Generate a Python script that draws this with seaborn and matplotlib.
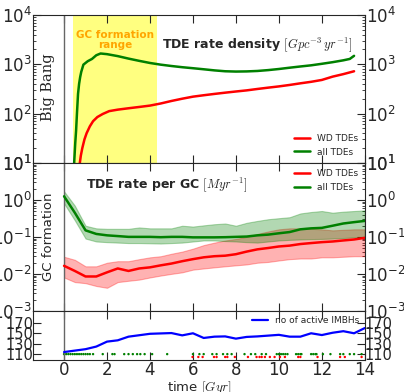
import numpy as np
import pandas as pd
import matplotlib
matplotlib.use("Agg")
import matplotlib.pyplot as plt
import seaborn as sns

# ---- top panel: TDE rate density ----
dens_all_t = [0.47, 0.52, 0.56, 0.6, 0.65, 0.7, 0.75, 0.8, 0.9, 1.1, 1.3, 1.5, 1.7, 2.0, 2.5, 3.0, 3.5, 4.0,
              4.5, 5.0, 5.5, 6.0, 6.5, 7.0, 7.5, 8.0, 8.5, 9.0, 9.5, 10.0, 10.5, 11.0, 11.5, 12.0, 12.5, 13.0, 13.3, 13.5]
dens_all = [10, 25, 45, 100, 250, 400, 550, 700, 980, 1150, 1280, 1520, 1650, 1600, 1460, 1300, 1170, 1060,
            980, 920, 870, 830, 790, 750, 720, 710, 715, 730, 760, 800, 850, 900, 950, 1020, 1100, 1200, 1280, 1480]
dens_wd_t = [0.72, 0.78, 0.85, 0.95, 1.05, 1.2, 1.35, 1.55, 1.8, 2.1, 2.5, 3.0, 3.5, 4.0, 4.5, 5.0, 5.5, 6.0,
             6.5, 7.0, 7.5, 8.0, 8.5, 9.0, 9.5, 10.0, 10.5, 11.0, 11.5, 12.0, 12.5, 13.0, 13.5]
dens_wd = [9, 14, 20, 30, 40, 55, 70, 85, 98, 112, 120, 128, 136, 145, 160, 180, 200, 220,
           235, 250, 265, 280, 295, 315, 335, 355, 380, 410, 440, 480, 560, 630, 720]

# ---- middle panel: TDE rate per GC ----
gc_t = [0, 0.5, 1, 1.5, 2, 2.5, 3, 3.5, 4, 4.5, 5, 5.5, 6, 6.5, 7, 7.5, 8, 8.5, 9, 9.5, 10, 10.5, 11,
        11.5, 12, 12.5, 13, 13.5, 14]
gc_all = [1.25, 0.45, 0.15, 0.12, 0.11, 0.105, 0.1, 0.1, 0.1, 0.098, 0.1, 0.1, 0.097, 0.097, 0.097, 0.098, 0.1,
          0.102, 0.11, 0.115, 0.125, 0.135, 0.16, 0.17, 0.175, 0.2, 0.23, 0.25, 0.27]
gc_all_hi = [1.7, 0.7, 0.2, 0.17, 0.165, 0.165, 0.165, 0.18, 0.17, 0.17, 0.17, 0.2, 0.19, 0.205, 0.22, 0.23,
             0.2, 0.24, 0.27, 0.3, 0.32, 0.34, 0.43, 0.47, 0.5, 0.45, 0.48, 0.5, 0.52]
gc_all_lo = [0.8, 0.28, 0.09, 0.075, 0.072, 0.07, 0.068, 0.068, 0.067, 0.066, 0.068, 0.07, 0.075, 0.08, 0.08,
             0.077, 0.075, 0.072, 0.07, 0.075, 0.08, 0.083, 0.085, 0.087, 0.088, 0.09, 0.093, 0.097, 0.1]
gc_wd = [0.0165, 0.012, 0.0085, 0.0085, 0.011, 0.014, 0.012, 0.014, 0.015, 0.017, 0.019, 0.022, 0.025, 0.028,
         0.03, 0.031, 0.034, 0.04, 0.046, 0.05, 0.055, 0.058, 0.064, 0.068, 0.072, 0.075, 0.08, 0.085, 0.094]
gc_wd_hi = [0.029, 0.024, 0.016, 0.016, 0.02, 0.022, 0.022, 0.025, 0.028, 0.03, 0.035, 0.04, 0.048, 0.06,
            0.07, 0.08, 0.088, 0.1, 0.12, 0.14, 0.16, 0.17, 0.17, 0.165, 0.16, 0.15, 0.155, 0.16, 0.16]
gc_wd_lo = [0.008, 0.006, 0.0056, 0.0047, 0.0042, 0.006, 0.0065, 0.007, 0.008, 0.009, 0.01, 0.011, 0.013,
            0.014, 0.015, 0.016, 0.017, 0.018, 0.02, 0.021, 0.023, 0.025, 0.026, 0.026, 0.028, 0.028, 0.029,
            0.03, 0.03]

# ---- bottom panel: number of active IMBHs ----
imbh_t = [0, 1, 1.5, 2, 2.5, 3, 4, 5, 5.5, 6, 6.5, 7, 7.5, 8, 8.5, 9, 10, 10.5, 11, 11.5, 12, 12.5, 13,
          13.5, 14]
imbh_n = [114, 119.5, 124.5, 134, 136.5, 143.5, 149, 150.4, 146, 150, 141, 143.5, 144, 139.7, 143, 144, 147,
          143.5, 143.5, 150, 146.6, 151, 154, 150, 160]
ev_all_t = [0.0, 0.1, 0.2, 0.3, 0.4, 0.5, 0.6, 0.7, 0.8, 0.9, 1.0, 1.1, 1.2, 1.35, 1.8, 2.25, 2.35, 2.8,
            3.0, 3.2, 3.4, 3.55, 3.75, 4.1, 4.8, 6.0, 6.3, 6.5, 6.9, 7.1, 7.4, 7.6, 7.8, 8.4, 8.7, 8.9,
            9.2, 9.4, 9.9, 10.0, 10.1, 10.2, 10.3, 10.4, 10.8, 10.9, 11.0, 11.05, 11.5, 11.6, 11.7, 11.75,
            12.05, 12.4, 12.85, 13.0, 13.3, 13.5, 13.85]
ev_wd_t = [5.98, 6.25, 6.45, 6.98, 7.1, 7.5, 7.6, 7.95, 8.56, 8.96, 9.1, 9.2, 9.35, 9.58, 9.8, 10.05,
           10.28, 10.9, 11.0, 11.8, 12.85, 13.07, 13.85]
ev_all_n = 110
ev_wd_n = 104.5

sns.set_style("ticks")
plt.rcParams['font.family'] = ['DejaVu Sans']
plt.rcParams['mathtext.fontset'] = 'cm'

fig = plt.figure(figsize=(4.04, 3.92), dpi=100)
gs = fig.add_gridspec(3, 1, height_ratios=[148, 148, 49], hspace=0)
fig.subplots_adjust(left=0.082, right=0.903, top=0.962, bottom=0.082)
ax1 = fig.add_subplot(gs[0])
ax2 = fig.add_subplot(gs[1], sharex=ax1)
ax3 = fig.add_subplot(gs[2], sharex=ax1)

XMIN, XMAX = -1.44, 14

# top
ax1.axvspan(0.42, 4.33, color='#ffff80', zorder=0, lw=0)
sns.lineplot(x=dens_wd_t, y=dens_wd, ax=ax1, color='red', lw=1.8, label='WD TDEs')
sns.lineplot(x=dens_all_t, y=dens_all, ax=ax1, color='green', lw=1.8, label='all TDEs')
ax1.set_yscale('log')
ax1.set_ylim(10, 1e4)
ax1.text(2.38, 10**3.5, 'GC formation\nrange', color='orange', fontweight='bold', fontsize=7.5,
         ha='center', va='center', linespacing=1.0)
ax1.text(0.39, 0.80, 'TDE rate density $[Gpc^{-3}\\,yr^{-1}]$', transform=ax1.transAxes,
         fontweight='bold', fontsize=9, va='center', ha='left')
ax1.text(0.045, 0.51, 'Big Bang', transform=ax1.transAxes, rotation=90, ha='center', va='center',
         fontsize=10.5, family='DejaVu Serif')
ax1.legend(loc='lower right', frameon=False, fontsize=6.5, handlelength=1.8, borderaxespad=0.3)

# middle
ax2.fill_between(gc_t, gc_wd_lo, gc_wd_hi, color='red', alpha=0.3, lw=0.8, edgecolor='red')
ax2.fill_between(gc_t, gc_all_lo, gc_all_hi, color='green', alpha=0.3, lw=0.8, edgecolor='green')
sns.lineplot(x=gc_t, y=gc_wd, ax=ax2, color='red', lw=1.8, label='WD TDEs')
sns.lineplot(x=gc_t, y=gc_all, ax=ax2, color='green', lw=1.8, label='all TDEs')
ax2.set_yscale('log')
ax2.set_ylim(1e-3, 10)
ax2.text(0.16, 0.85, 'TDE rate per GC $[Myr^{-1}]$', transform=ax2.transAxes,
         fontweight='bold', fontsize=9, va='center', ha='left')
ax2.text(0.045, 0.5, 'GC formation', transform=ax2.transAxes, rotation=90, ha='center', va='center',
         fontsize=9.5)
ax2.legend(loc='upper right', frameon=False, fontsize=6.5, handlelength=1.8, borderaxespad=0.3)

# bottom
sns.lineplot(x=imbh_t, y=imbh_n, ax=ax3, color='blue', lw=1.6, label='no of active IMBHs')
sns.scatterplot(x=ev_all_t, y=[ev_all_n] * len(ev_all_t), ax=ax3, color='green', s=3, marker='o',
                edgecolor='none', legend=False)
sns.scatterplot(x=ev_wd_t, y=[ev_wd_n] * len(ev_wd_t), ax=ax3, color='red', s=3, marker='o',
                edgecolor='none', legend=False)
ax3.set_ylim(99, 193)
ax3.set_yticks([110, 130, 150, 170])
ax3.legend(loc='upper right', frameon=False, fontsize=6.5, handlelength=1.8, borderaxespad=0.2)
ax3.set_xlabel('time $[Gyr]$', fontsize=9.5, labelpad=0)

ax3.set_xlim(XMIN, XMAX)
ax3.set_xticks(range(0, 15, 2))

for ax in (ax1, ax2, ax3):
    ax.axvline(0, color='#666666', lw=1.0, zorder=1)
    ax.tick_params(which='both', direction='in', top=True, right=True, labelright=True,
                   labelsize=12, pad=1)
    ax.tick_params(which='major', length=6)
    ax.tick_params(which='minor', length=2.5)
    ax.set_ylabel('')
    for s in ax.spines.values():
        s.set_linewidth(0.8)
for ax in (ax1, ax2):
    ax.tick_params(labelbottom=False)
ax3.tick_params(axis='y', labelsize=10.5, pad=0)

fig.savefig('out.png', dpi=100)
